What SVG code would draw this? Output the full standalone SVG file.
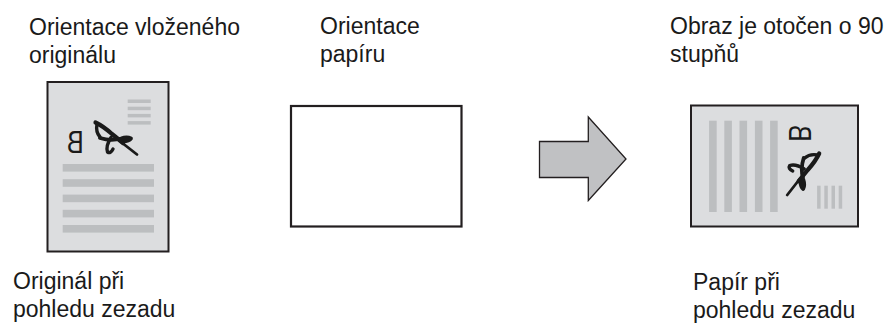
<svg xmlns="http://www.w3.org/2000/svg" width="888" height="323" viewBox="0 0 888 323">
<style>
  .lbl { font-family: "Liberation Sans", Arial, sans-serif; font-size: 23px; fill: #1a1a1a; }
  .doc { fill: #dcdddf; stroke: #231f20; stroke-width: 2; }
  .paper { fill: #ffffff; stroke: #231f20; stroke-width: 2.2; }
  .ln { fill: #bcbec0; }
  .ink { fill: none; stroke: #1a1a1a; stroke-linecap: round; stroke-linejoin: round; }
  .arrow { fill: #c0c1c3; stroke: #231f20; stroke-width: 1.3; stroke-linejoin: miter; }
</style>
<defs>
  <g id="content">
    <rect class="ln" x="127.7" y="99.5" width="23" height="3.5"/>
    <rect class="ln" x="127.7" y="106.7" width="23" height="3.5"/>
    <rect class="ln" x="127.7" y="113.9" width="23" height="3.5"/>
    <rect class="ln" x="127.7" y="121.1" width="23" height="3.5"/>
    <rect class="ln" x="62.7" y="164" width="91.3" height="7.6"/>
    <rect class="ln" x="62.7" y="179.2" width="91.3" height="7.6"/>
    <rect class="ln" x="62.7" y="194.6" width="91.3" height="7.6"/>
    <rect class="ln" x="62.7" y="209.8" width="91.3" height="7.6"/>
    <rect class="ln" x="62.7" y="225" width="91.3" height="7.6"/>
    <text transform="translate(83.7,152.7) scale(-0.82,1)" style="font-family:'Liberation Sans',Arial,sans-serif;font-size:31px;fill:#1a1a1a">B</text>
    <path class="ink" stroke-width="4.2" d="M95.5 122.5 Q103 126 112 134 L123 143"/>
    <path class="ink" stroke-width="3.4" d="M97 124 Q95.5 132 100 137"/>
    <path class="ink" stroke-width="3.8" d="M100 138 Q111 141.5 121 138.5 Q127 136.5 131 138.5 Q129 141 123 141.5"/>
    <path class="ink" stroke-width="2.8" d="M121 142 L137 154.5"/>
    <path class="ink" stroke-width="3.4" d="M111 137.5 Q105.5 146 107.5 152 Q110.5 154 113 149"/>
  </g>
</defs>

<g id="label-orig-orientation">
  <text class="lbl" x="29" y="35">Orientace vloženého</text>
  <text class="lbl" x="29" y="63">originálu</text>
</g>
<g id="label-paper-orientation">
  <text class="lbl" x="320" y="34">Orientace</text>
  <text class="lbl" x="320" y="62">papíru</text>
</g>
<g id="label-rotated">
  <text class="lbl" x="670" y="34">Obraz je otočen o 90</text>
  <text class="lbl" x="670" y="62">stupňů</text>
</g>

<g id="original">
  <rect class="doc" x="47.5" y="82" width="121" height="169.5"/>
  <use href="#content"/>
</g>

<g id="paper">
  <rect class="paper" x="291" y="106" width="170.5" height="120.5"/>
</g>

<g id="connectors">
  <polygon class="arrow" points="539.5,141.5 588.3,141.5 588.3,117 626,159 588.3,200.5 588.3,177.5 539.5,177.5"/>
</g>

<g id="result">
  <rect class="doc" x="691" y="105.5" width="167" height="121"/>
  <use href="#content" transform="translate(803.7,173) rotate(90) translate(-115,-138)"/>
</g>

<g id="label-orig-back">
  <text class="lbl" x="13" y="288.5">Originál při</text>
  <text class="lbl" x="13" y="317">pohledu zezadu</text>
</g>
<g id="label-paper-back">
  <text class="lbl" x="693" y="290">Papír při</text>
  <text class="lbl" x="693" y="317.5">pohledu zezadu</text>
</g>
</svg>
